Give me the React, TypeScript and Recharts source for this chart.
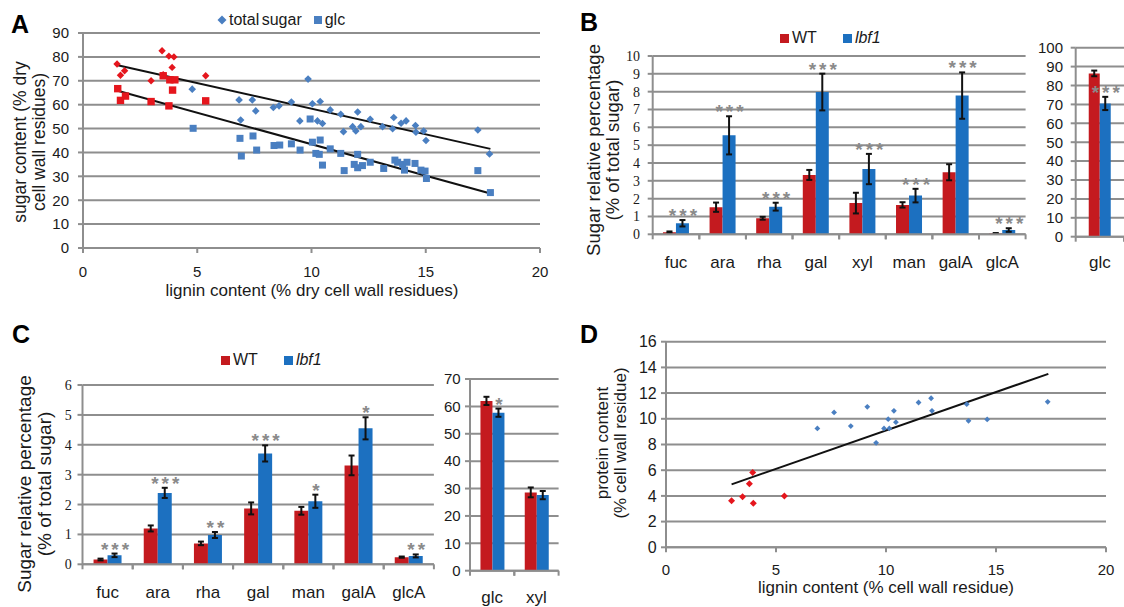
import React from "react";
import {
  ScatterChart,
  Scatter,
  XAxis,
  YAxis,
  CartesianGrid,
  ReferenceLine,
  BarChart,
  Bar,
  ErrorBar,
  LabelList,
} from "recharts";

const GRID = "#8e8e8e";
const INK = "#1a1a1a";
const RED_PT = "#e5161d";
const BLUE_PT = "#4a7fc1";
const RED_BAR = "#c41a1f";
const BLUE_BAR = "#1c70c0";
const STAR = "#8a8a8a";
const SANS = '"Liberation Sans", Arial, sans-serif';
const SERIF = '"Liberation Serif", "Times New Roman", serif';

// A: lignin (x) vs sugar content (y), WT in red, lbf1 in blue
const sugarWT = [[1.49, 77.0], [1.64, 72.3], [1.82, 74.2], [3.46, 82.6], [3.76, 80.3], [3.98, 80.0], [3.9, 75.6], [2.98, 70.0], [3.51, 72.5], [3.83, 70.4], [5.37, 72.1]];
const glcWT = [[1.52, 66.7], [1.64, 61.8], [1.86, 63.6], [2.98, 61.3], [3.51, 72.1], [3.8, 70.4], [4.02, 70.4], [3.92, 66.1], [3.76, 59.5], [5.37, 61.6]];
const sugarMut = [[4.78, 66.5], [6.83, 62.0], [7.41, 62.0], [6.9, 53.6], [7.56, 57.4], [8.33, 58.8], [8.58, 59.5], [9.12, 61.1], [9.49, 53.2], [9.85, 70.7], [10.04, 60.4], [10.38, 61.3], [10.26, 53.2], [10.48, 52.1], [10.82, 57.8], [11.28, 56.0], [11.4, 48.7], [11.8, 50.8], [11.94, 49.0], [12.02, 56.9], [12.16, 50.8], [12.57, 53.9], [13.11, 50.8], [13.6, 54.6], [13.55, 49.9], [13.92, 52.2], [14.14, 53.2], [14.55, 51.3], [14.57, 48.5], [14.91, 49.0], [15.01, 45.0], [17.28, 49.4], [17.79, 39.4]];
const glcMut = [[4.82, 50.1], [6.87, 45.9], [6.93, 38.5], [7.44, 46.9], [7.6, 41.0], [8.36, 42.9], [8.61, 43.1], [9.12, 43.6], [9.5, 41.0], [9.94, 54.0], [10.04, 44.3], [10.38, 45.2], [10.19, 39.6], [10.34, 39.2], [10.48, 34.7], [10.82, 41.5], [11.28, 39.6], [11.43, 32.4], [12.02, 39.2], [11.87, 35.0], [12.02, 33.6], [12.23, 34.5], [12.57, 35.9], [13.16, 33.3], [13.65, 36.8], [13.77, 35.9], [13.99, 35.0], [14.18, 35.9], [14.07, 32.6], [14.53, 35.4], [14.79, 32.6], [14.97, 32.2], [15.03, 29.1], [17.28, 32.4], [17.83, 23.2]];
const sugarTrend = [{ x: 1.52, y: 76.5 }, { x: 17.83, y: 41.5 }];
const glcTrend = [{ x: 1.52, y: 65.8 }, { x: 17.83, y: 22.8 }];
const aXTicks = [0, 5, 10, 15, 20];
const aYTicks = [0, 10, 20, 30, 40, 50, 60, 70, 80, 90];

// B: sugar composition, % of total sugar
const bCats = ["fuc", "ara", "rha", "gal", "xyl", "man", "galA", "glcA"];
const bWT = [0.12, 1.52, 0.9, 3.33, 1.75, 1.65, 3.48, 0.05];
const bWTErr = [0.04, 0.26, 0.08, 0.28, 0.58, 0.15, 0.45, 0.02];
const bMut = [0.62, 5.55, 1.55, 7.98, 3.66, 2.17, 7.78, 0.24];
const bMutErr = [0.18, 1.07, 0.22, 1.03, 0.85, 0.38, 1.3, 0.1];
const bStars = ["***", "***", "***", "***", "***", "***", "***", "***"];
const bYTicks = [0, 1, 2, 3, 4, 5, 6, 7, 8, 9, 10];
const bGlcCats = ["glc"];
const bGlcWT = [86.4];
const bGlcWTErr = [1.5];
const bGlcMut = [70.5];
const bGlcMutErr = [3.5];
const bGlcStars = ["***"];
const bGlcTicks = [0, 10, 20, 30, 40, 50, 60, 70, 80, 90, 100];

// C
const cCats = ["fuc", "ara", "rha", "gal", "man", "galA", "glcA"];
const cWT = [0.16, 1.2, 0.7, 1.87, 1.79, 3.31, 0.24];
const cWTErr = [0.03, 0.1, 0.06, 0.2, 0.13, 0.33, 0.02];
const cMut = [0.3, 2.39, 0.98, 3.71, 2.11, 4.55, 0.28];
const cMutErr = [0.06, 0.17, 0.1, 0.27, 0.22, 0.37, 0.05];
const cStars = ["***", "***", "**", "***", "*", "*", "**"];
const cYTicks = [0, 1, 2, 3, 4, 5, 6];
const cSubCats = ["glc", "xyl"];
const cSubWT = [62.0, 28.6];
const cSubWTErr = [1.5, 1.8];
const cSubMut = [57.7, 27.6];
const cSubMutErr = [1.5, 1.5];
const cSubStars = ["*", ""];
const cSubTicks = [0, 10, 20, 30, 40, 50, 60, 70];

// D: lignin vs protein
const proteinWT = [[2.98, 3.63], [3.48, 3.94], [3.94, 5.83], [3.79, 4.95], [3.97, 3.42], [5.38, 3.99]];
const proteinMut = [[6.88, 9.25], [7.64, 10.5], [8.4, 9.43], [9.15, 10.93], [9.55, 8.13], [10.1, 9.97], [9.91, 9.25], [10.15, 9.25], [10.36, 10.62], [10.45, 9.74], [11.48, 11.27], [12.05, 11.6], [12.09, 10.62], [13.67, 11.14], [13.75, 9.84], [14.6, 9.95], [17.35, 11.32]];
const proteinTrend = [{ x: 2.98, y: 4.9 }, { x: 17.38, y: 13.5 }];
const dXTicks = [0, 5, 10, 15, 20];
const dYTicks = [0, 2, 4, 6, 8, 10, 12, 14, 16];

const toPts = (arr: number[][]) => arr.map(([x, y]) => ({ x, y }));
const axisStyle = { stroke: GRID, strokeWidth: 2 };

const diamond = (r: number, fill: string) => (p: any) => (
  <path
    d={`M${p.cx},${p.cy - r}L${p.cx + r},${p.cy}L${p.cx},${p.cy + r}L${p.cx - r},${p.cy}Z`}
    fill={fill}
  />
);
const square = (r: number, fill: string) => (p: any) => (
  <rect x={p.cx - r} y={p.cy - r} width={2 * r} height={2 * r} fill={fill} />
);

function VTitle({ cx, cy, lines, size, lh }: { cx: number; cy: number; lines: string[]; size: number; lh: number }) {
  return (
    <div
      style={{
        position: "absolute",
        left: cx,
        top: cy,
        transform: "translate(-50%, -50%) rotate(-90deg)",
        fontSize: size,
        lineHeight: lh + "px",
        textAlign: "center",
        whiteSpace: "nowrap",
        fontFamily: SANS,
        color: INK,
      }}
    >
      {lines.map((l) => (
        <div key={l}>{l}</div>
      ))}
    </div>
  );
}

function Text({ x, y, children, size = 17, style = {} }: any) {
  return (
    <div style={{ position: "absolute", left: x, top: y, fontSize: size, lineHeight: 1, fontFamily: SANS, color: INK, whiteSpace: "nowrap", ...style }}>
      {children}
    </div>
  );
}

function Letter({ x, y, ch }: { x: number; y: number; ch: string }) {
  return <Text x={x} y={y} size={25} style={{ fontWeight: "bold", color: "#000" }}>{ch}</Text>;
}

function BarLegend({ x, y }: { x: number; y: number }) {
  const sq = (c: string) => <span style={{ display: "inline-block", width: 9, height: 9, background: c, marginRight: 3 }} />;
  return (
    <div style={{ position: "absolute", left: x, top: y, display: "flex", alignItems: "center", fontFamily: SANS, fontSize: 16, color: INK, lineHeight: 1 }}>
      {sq(RED_BAR)}
      <span style={{ marginRight: 26 }}>WT</span>
      {sq(BLUE_BAR)}
      <span style={{ fontStyle: "italic" }}>lbf1</span>
    </div>
  );
}

type BarPanelProps = {
  left: number;
  top: number;
  width: number;
  height: number;
  margin: { top: number; right: number; bottom: number; left: number };
  yWidth: number;
  yMax: number;
  yTicks: number[];
  yFont: string;
  yFontSize: number;
  yTickMargin: number;
  cats: string[];
  wt: number[];
  wtErr: number[];
  mut: number[];
  mutErr: number[];
  stars: string[];
  gap: string;
  labelDy: number;
};

function BarPanel(p: BarPanelProps) {
  const rows = p.cats.map((name, i) => ({
    name,
    wt: p.wt[i],
    wtErr: p.wtErr[i],
    mut: p.mut[i],
    mutErr: p.mutErr[i],
    star: p.stars[i],
  }));
  const byName: Record<string, (typeof rows)[number]> = {};
  rows.forEach((r) => (byName[r.name] = r));
  const plotW = p.width - p.margin.left - p.margin.right - p.yWidth;
  const half = plotW / p.cats.length / 2;

  const tick = (t: any) => (
    <g>
      <line x1={t.x - half} x2={t.x - half} y1={t.y} y2={t.y + 5} stroke={GRID} strokeWidth={2} />
      <line x1={t.x + half} x2={t.x + half} y1={t.y} y2={t.y + 5} stroke={GRID} strokeWidth={2} />
      <text x={t.x} y={t.y + p.labelDy} textAnchor="middle" fontFamily={SANS} fontSize={17} fill={INK}>
        {t.payload.value}
      </text>
    </g>
  );

  // significance stars sit just above the lbf1 error bar
  const star = (s: any) => {
    const r = byName[s.value];
    if (!r || !r.star) return null;
    const vb = s.viewBox ?? s;
    const h = Math.abs(vb.height);
    const yTop = Math.min(vb.y, vb.y + vb.height);
    const errTop = r.mut > 0 ? yTop - (r.mutErr * h) / r.mut : yTop;
    return (
      <text
        x={vb.x + vb.width / 2 + 2}
        y={errTop + 2}
        textAnchor="middle"
        fontFamily={SANS}
        fontSize={19}
        fontWeight="bold"
        fill={STAR}
        letterSpacing={3}
      >
        {r.star}
      </text>
    );
  };

  return (
    <div style={{ position: "absolute", left: p.left, top: p.top }}>
      <BarChart width={p.width} height={p.height} data={rows} margin={p.margin} barCategoryGap={p.gap} barGap={0}>
        <CartesianGrid vertical={false} stroke={GRID} strokeWidth={2} />
        <XAxis dataKey="name" height={30} axisLine={axisStyle} tickLine={false} tickSize={0} tickMargin={0} interval={0} tick={tick} />
        <YAxis
          width={p.yWidth}
          domain={[0, p.yMax]}
          ticks={p.yTicks}
          interval={0}
          allowDataOverflow
          axisLine={axisStyle}
          tickLine={axisStyle}
          tickSize={5}
          tickMargin={p.yTickMargin}
          tick={{ fontFamily: p.yFont, fontSize: p.yFontSize, fill: INK }}
        />
        <Bar dataKey="wt" fill={RED_BAR} isAnimationActive={false}>
          <ErrorBar dataKey="wtErr" width={3} stroke="#111" strokeWidth={2} />
        </Bar>
        <Bar dataKey="mut" fill={BLUE_BAR} isAnimationActive={false}>
          <ErrorBar dataKey="mutErr" width={3} stroke="#111" strokeWidth={2} />
          <LabelList dataKey="name" content={star} />
        </Bar>
      </BarChart>
    </div>
  );
}

export default function App() {
  const numTick = { fontFamily: SANS, fontSize: 15, fill: INK };
  return (
    <div style={{ position: "fixed", left: 0, top: 0, width: 1124, height: 607, overflow: "hidden", background: "#fff" }}>
      {/* A */}
      <div style={{ position: "absolute", left: 0, top: 0 }}>
        <ScatterChart width={560} height={310} margin={{ top: 33, right: 20, bottom: 32, left: 0 }}>
          <CartesianGrid vertical={false} stroke={GRID} strokeWidth={2} />
          <XAxis type="number" dataKey="x" domain={[0, 20]} ticks={aXTicks} interval={0} height={30} axisLine={axisStyle} tickLine={axisStyle} tickSize={5} tickMargin={13} tick={numTick} />
          <YAxis type="number" dataKey="y" domain={[0, 90]} ticks={aYTicks} interval={0} width={83} axisLine={axisStyle} tickLine={axisStyle} tickSize={5} tickMargin={9} tick={numTick} />
          <Scatter data={toPts(sugarMut)} shape={diamond(3.8, BLUE_PT)} isAnimationActive={false} />
          <Scatter data={toPts(glcMut)} shape={square(3.5, BLUE_PT)} isAnimationActive={false} />
          <Scatter data={toPts(sugarWT)} shape={diamond(3.7, RED_PT)} isAnimationActive={false} />
          <Scatter data={toPts(glcWT)} shape={square(3.7, RED_PT)} isAnimationActive={false} />
          <ReferenceLine segment={sugarTrend} stroke="#111" strokeWidth={2} />
          <ReferenceLine segment={glcTrend} stroke="#111" strokeWidth={2} />
        </ScatterChart>
      </div>
      <Letter x={11} y={12} ch="A" />
      <div style={{ position: "absolute", left: 217, top: 12, display: "flex", alignItems: "center", fontFamily: SANS, fontSize: 16, color: INK, lineHeight: 1 }}>
        <svg width={10} height={10} style={{ marginRight: 2 }}>
          <path d="M5,0.5L9.5,5L5,9.5L0.5,5Z" fill={BLUE_PT} />
        </svg>
        <span style={{ marginRight: 12, wordSpacing: -2 }}>total sugar</span>
        <span style={{ display: "inline-block", width: 8, height: 8, background: BLUE_PT, marginRight: 3 }} />
        <span>glc</span>
      </div>
      <VTitle cx={30} cy={142} lines={["sugar content (% dry", "cell wall residues)"]} size={17.5} lh={19} />
      <Text x={312} y={282} style={{ transform: "translateX(-50%)" }}>lignin content (% dry cell wall residues)</Text>

      {/* B */}
      <BarPanel
        left={560}
        top={0}
        width={480}
        height={290}
        margin={{ top: 56, right: 14.4, bottom: 25.7, left: 52.7 }}
        yWidth={40}
        yMax={10}
        yTicks={bYTicks}
        yFont={SERIF}
        yFontSize={14}
        yTickMargin={7.7}
        cats={bCats}
        wt={bWT}
        wtErr={bWTErr}
        mut={bMut}
        mutErr={bMutErr}
        stars={bStars}
        gap="22%"
        labelDy={33.7}
      />
      <BarPanel
        left={1030}
        top={0}
        width={94}
        height={290}
        margin={{ top: 47.7, right: 0, bottom: 23.3, left: 0 }}
        yWidth={45.7}
        yMax={100}
        yTicks={bGlcTicks}
        yFont={SANS}
        yFontSize={15}
        yTickMargin={7.7}
        cats={bGlcCats}
        wt={bGlcWT}
        wtErr={bGlcWTErr}
        mut={bGlcMut}
        mutErr={bGlcMutErr}
        stars={bGlcStars}
        gap="27%"
        labelDy={31.7}
      />
      <Letter x={580} y={10} ch="B" />
      <BarLegend x={780} y={30} />
      <VTitle cx={603} cy={150} lines={["Sugar relative percentage", "(% of total sugar)"]} size={18.5} lh={19} />

      {/* C */}
      <BarPanel
        left={0}
        top={300}
        width={445}
        height={307}
        margin={{ top: 85, right: 11.1, bottom: 12.7, left: 42.5 }}
        yWidth={40}
        yMax={6}
        yTicks={cYTicks}
        yFont={SERIF}
        yFontSize={14}
        yTickMargin={5.8}
        cats={cCats}
        wt={cWT}
        wtErr={cWTErr}
        mut={cMut}
        mutErr={cMutErr}
        stars={cStars}
        gap="22%"
        labelDy={33.7}
      />
      <BarPanel
        left={425}
        top={300}
        width={140}
        height={307}
        margin={{ top: 79, right: 6.4, bottom: 6.3, left: 0 }}
        yWidth={45}
        yMax={70}
        yTicks={cSubTicks}
        yFont={SANS}
        yFontSize={15}
        yTickMargin={4.3}
        cats={cSubCats}
        wt={cSubWT}
        wtErr={cSubWTErr}
        mut={cSubMut}
        mutErr={cSubMutErr}
        stars={cSubStars}
        gap="23.6%"
        labelDy={32.5}
      />
      <Letter x={12} y={322} ch="C" />
      <BarLegend x={221} y={352} />
      <VTitle cx={35} cy={484} lines={["Sugar relative percentage", "(% of total sugar)"]} size={19} lh={20} />

      {/* D */}
      <div style={{ position: "absolute", left: 560, top: 300 }}>
        <ScatterChart width={564} height={307} margin={{ top: 41.7, right: 18, bottom: 29.7, left: 66 }}>
          <CartesianGrid vertical={false} stroke={GRID} strokeWidth={2} />
          <XAxis type="number" dataKey="x" domain={[0, 20]} ticks={dXTicks} interval={0} height={30} axisLine={axisStyle} tickLine={axisStyle} tickSize={5} tickMargin={12.4} tick={numTick} />
          <YAxis type="number" dataKey="y" domain={[0, 16]} ticks={dYTicks} interval={0} width={40} axisLine={axisStyle} tickLine={axisStyle} tickSize={5} tickMargin={4.3} tick={{ ...numTick, fontSize: 16 }} />
          <Scatter data={toPts(proteinMut)} shape={diamond(2.9, BLUE_PT)} isAnimationActive={false} />
          <Scatter data={toPts(proteinWT)} shape={diamond(3.5, RED_PT)} isAnimationActive={false} />
          <ReferenceLine segment={proteinTrend} stroke="#111" strokeWidth={2} />
        </ScatterChart>
      </div>
      <Letter x={580} y={322} ch="D" />
      <VTitle cx={611.5} cy={443} lines={["protein content", "(% cell wall residue)"]} size={17} lh={18} />
      <Text x={886} y={579} style={{ transform: "translateX(-50%)" }}>lignin content (% cell wall residue)</Text>
    </div>
  );
}
